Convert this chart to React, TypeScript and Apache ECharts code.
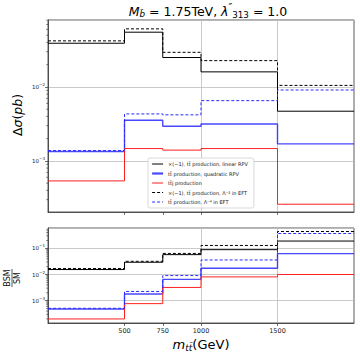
import React, { useEffect, useRef } from "react";
import * as echarts from "echarts";

const edges = [0, 500, 750, 1000, 1500, 2000];
const xTickValues = [500, 750, 1000, 1500];

const seriesNames = [
  "×(−1), tt̄ production, linear RPV",
  "tt̄ production, quadratic RPV",
  "tt̄j production",
  "×(−1), tt̄ production, Λ⁻² in EFT",
  "tt̄ production, Λ⁻⁴ in EFT",
];

// upper panel: Δσ (pb)
const topLinearRPV = [0.039, 0.055, 0.025, 0.016, 0.0047];
const topQuadRPV = [0.00134, 0.00355, 0.00294, 0.00316, 0.0017];
const topTTJ = [0.000537, 0.00147, 0.0014, 0.00147, 0.00026];
const topEFT2 = [0.042, 0.061, 0.0294, 0.0227, 0.0105];
const topEFT4 = [0.00138, 0.00432, 0.0042, 0.00653, 0.0091];

// lower panel: BSM / SM
const ratioLinearRPV = [0.0155, 0.0294, 0.0575, 0.089, 0.19];
const ratioQuadRPV = [0.00048, 0.0018, 0.0065, 0.0174, 0.063];
const ratioTTJ = [0.0002, 0.00077, 0.0032, 0.0081, 0.01];
const ratioEFT2 = [0.0169, 0.032, 0.064, 0.129, 0.44];
const ratioEFT4 = [0.00051, 0.00225, 0.0091, 0.036, 0.37];

const topRange = [0.000204, 0.0804];
const ratioRange = [0.00014, 0.6];

const stepData = (vals: number[]) =>
  edges.map((x, i) => [x, vals[Math.min(i, vals.length - 1)]]);

const minorTicks = (range: number[]) => {
  const out: number[] = [];
  for (let e = -5; e <= 0; e++) {
    for (let m = 2; m <= 9; m++) {
      const v = m * Math.pow(10, e);
      if (v > range[0] && v < range[1]) out.push(v);
    }
  }
  return out;
};

const FONT = "DejaVu Sans";
const AXIS_COLOR = "#333";
const GRID_COLOR = "#bcbcbc";

const styles = [
  { color: "#000", width: 1, legendWidth: 1, type: "solid" as any },
  { color: "rgba(40,40,255,0.85)", width: 1.4, legendWidth: 2.2, type: "solid" as any },
  { color: "#ff2020", width: 1, legendWidth: 1, type: "solid" as any },
  { color: "#000", width: 1, legendWidth: 1, type: [3, 2] as any },
  { color: "#2a2aff", width: 1, legendWidth: 1, type: [3, 2] as any },
];

export default function App() {
  const ref = useRef<HTMLDivElement>(null);
  useEffect(() => {
    if (!ref.current) return;
    const chart = echarts.init(ref.current, null, { renderer: "svg" });

    const topSets = [topLinearRPV, topQuadRPV, topTTJ, topEFT2, topEFT4];
    const ratioSets = [ratioLinearRPV, ratioQuadRPV, ratioTTJ, ratioEFT2, ratioEFT4];

    const lineSeries = (sets: number[][], axis: number) =>
      sets.map((vals, i) => ({
        name: seriesNames[i],
        type: "line",
        step: "end",
        xAxisIndex: axis,
        yAxisIndex: axis,
        symbol: "none",
        data: stepData(vals),
        lineStyle: { color: styles[i].color, width: styles[i].width, type: styles[i].type },
        itemStyle: { color: styles[i].color },
        z: 3,
        silent: true,
      }));

    const minorSeries = (range: number[], axis: number) => ({
      type: "custom",
      xAxisIndex: axis,
      yAxisIndex: axis,
      clip: false,
      silent: true,
      data: minorTicks(range).map((v) => [0, v]),
      renderItem: (_p: any, api: any) => {
        const p = api.coord([api.value(0), api.value(1)]);
        return {
          type: "line",
          shape: { x1: p[0] - 1.8, y1: p[1], x2: p[0], y2: p[1] },
          style: { stroke: AXIS_COLOR, lineWidth: 0.6 },
        };
      },
    });

    const splitColors = [0, 250, 500, 750, 1000, 1250, 1500, 1750, 2000].map((v) =>
      xTickValues.includes(v) ? GRID_COLOR : "rgba(0,0,0,0)"
    );

    const xAxisBase = (gridIndex: number, showLabels: boolean) => ({
      type: "value",
      gridIndex,
      min: 0,
      max: 2000,
      interval: 250,
      axisLine: { show: true, lineStyle: { color: AXIS_COLOR, width: 0.8 } },
      axisTick: {
        show: true,
        customValues: xTickValues,
        length: 3,
        lineStyle: { color: AXIS_COLOR, width: 0.7 },
      },
      axisLabel: {
        show: showLabels,
        customValues: xTickValues,
        fontFamily: FONT,
        fontSize: 6.5,
        color: "#222",
        margin: 4,
        formatter: (v: number) => String(v),
      },
      splitLine: { show: true, lineStyle: { color: splitColors, width: 0.8 } },
    });

    const yAxisBase = (gridIndex: number, range: number[]) => ({
      type: "log",
      logBase: 10,
      gridIndex,
      min: range[0],
      max: range[1],
      axisLine: { show: true, lineStyle: { color: AXIS_COLOR, width: 0.8 } },
      axisTick: { show: true, length: 3, lineStyle: { color: AXIS_COLOR, width: 0.7 } },
      axisLabel: {
        showMinLabel: false,
        showMaxLabel: false,
        fontFamily: FONT,
        fontSize: 5.5,
        color: "#222",
        margin: 3,
        formatter: (v: number) => {
          const e = Math.round(Math.log10(v));
          return "10{sup|" + (e < 0 ? "−" : "") + Math.abs(e) + "}";
        },
        rich: {
          sup: { fontSize: 4, fontFamily: FONT, color: "#222", padding: [0, 0, 5, 0] },
        },
      },
      splitLine: { show: true, lineStyle: { color: GRID_COLOR, width: 0.8 } },
    });

    const mathRich = (size: number) => ({
      n: { fontFamily: FONT, fontSize: size, color: "#111" },
      i: { fontFamily: FONT, fontSize: size, fontStyle: "italic", color: "#111" },
      sub: {
        fontFamily: FONT,
        fontSize: size * 0.7,
        fontStyle: "italic",
        color: "#111",
        padding: [size * 0.55, 0, 0, 0],
      },
      subn: {
        fontFamily: FONT,
        fontSize: size * 0.7,
        color: "#111",
        padding: [size * 0.7, 0, 0, 0],
      },
      sup: {
        fontFamily: FONT,
        fontSize: size * 0.8,
        fontStyle: "italic",
        color: "#111",
        padding: [0, 0, size * 0.5, 0],
      },
    });

    chart.setOption({
      animation: false,
      grid: [
        { left: 48, top: 20, width: 306, height: 192, show: true, borderColor: AXIS_COLOR, borderWidth: 0.8, backgroundColor: "transparent" },
        { left: 48, top: 228, width: 306, height: 95, show: true, borderColor: AXIS_COLOR, borderWidth: 0.8, backgroundColor: "transparent" },
      ],
      xAxis: [xAxisBase(0, false), xAxisBase(1, true)],
      yAxis: [yAxisBase(0, topRange), yAxisBase(1, ratioRange)],
      legend: {
        data: seriesNames.map((name, i) => ({
          name,
          lineStyle: { width: styles[i].legendWidth },
        })),
        orient: "vertical",
        left: 148,
        top: 158,
        itemWidth: 11,
        itemHeight: 5,
        itemGap: 4.5,
        padding: [3.5, 6, 3.5, 3],
        backgroundColor: "rgba(255,255,255,0.85)",
        borderColor: "#cfcfcf",
        borderWidth: 0.8,
        borderRadius: 2,
        selectedMode: false,
        itemStyle: { opacity: 0 },
        lineStyle: { width: 1 },
        textStyle: { fontFamily: FONT, fontSize: 5, color: "#111", padding: [0, 0, 0, 0] },
      },
      series: [
        ...lineSeries(topSets, 0),
        ...lineSeries(ratioSets, 1),
        minorSeries(topRange, 0),
        minorSeries(ratioRange, 1),
      ],
      graphic: [
        {
          type: "text",
          x: 208,
          y: 11,
          style: {
            text: "{i|M}{sub|b̃}{n| = 1.75TeV, }{i|λ}{sup|″}{subn|313}{n| = 1.0}",
            align: "center",
            verticalAlign: "middle",
            rich: mathRich(12.5),
          },
        },
        {
          type: "text",
          x: 17,
          y: 115,
          rotation: Math.PI / 2,
          style: {
            text: "{n|Δ}{i|σ}{n|(}{i|pb}{n|)}",
            align: "center",
            verticalAlign: "middle",
            rich: mathRich(12.5),
          },
        },
        {
          type: "group",
          x: 12,
          y: 278,
          rotation: Math.PI / 2,
          children: [
            {
              type: "text",
              x: 0,
              y: -5,
              style: { text: "BSM", fontFamily: FONT, fontSize: 8, fill: "#111", align: "center", verticalAlign: "middle" },
            },
            {
              type: "line",
              shape: { x1: -9, y1: 0, x2: 9, y2: 0 },
              style: { stroke: "#111", lineWidth: 0.7 },
            },
            {
              type: "text",
              x: 0,
              y: 5,
              style: { text: "SM", fontFamily: FONT, fontSize: 8, fill: "#111", align: "center", verticalAlign: "middle" },
            },
          ],
        },
        {
          type: "text",
          x: 201,
          y: 344,
          style: {
            text: "{i|m}{sub|tt̄}{n|(GeV)}",
            align: "center",
            verticalAlign: "middle",
            rich: mathRich(13),
          },
        },
      ],
    });
    return () => chart.dispose();
  }, []);
  return (
    <div
      ref={ref}
      style={{ position: "absolute", left: 0, top: 0, width: 360, height: 357, background: "#fff" }}
    />
  );
}
